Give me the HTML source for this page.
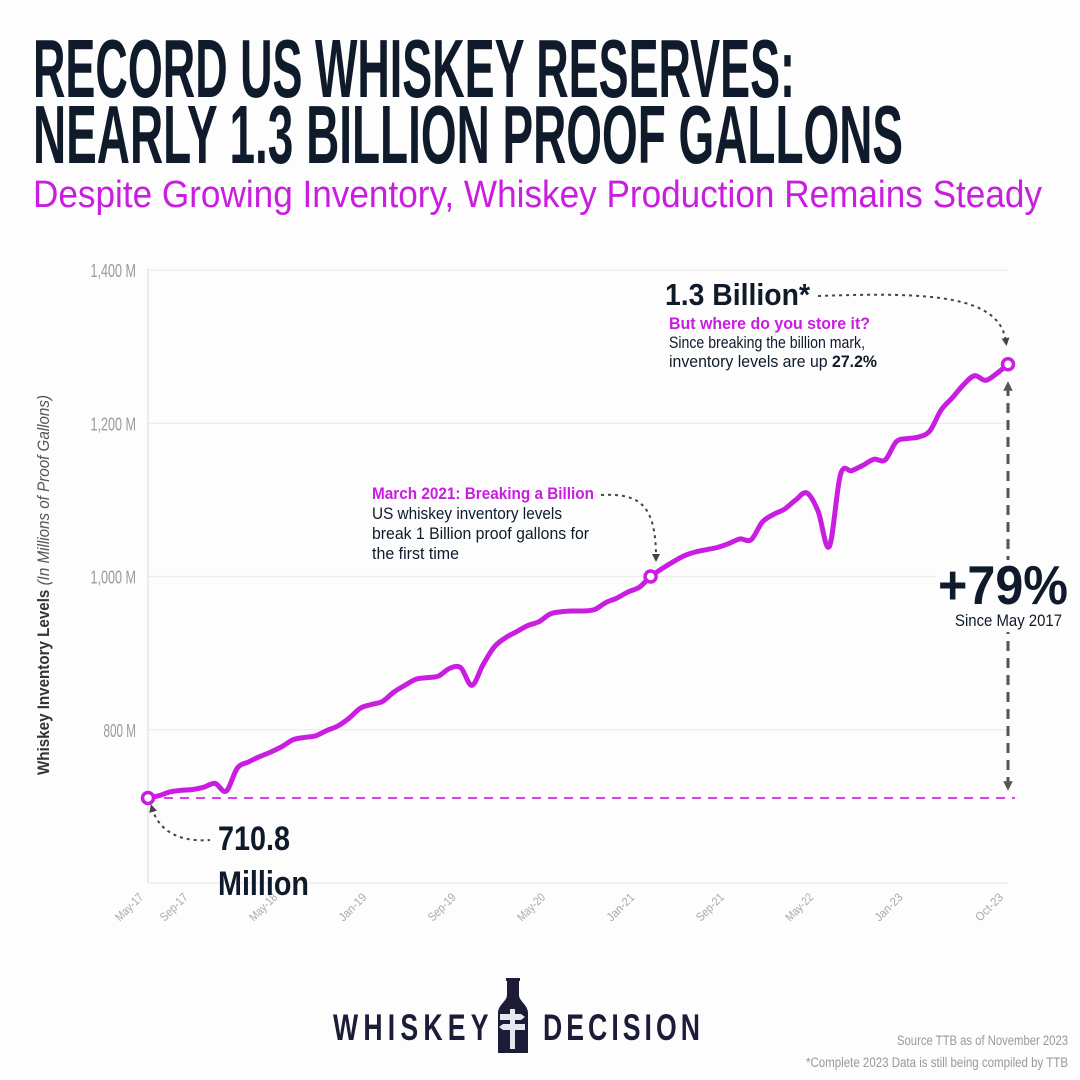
<!DOCTYPE html>
<html><head><meta charset="utf-8"><style>
html,body{margin:0;padding:0;background:#fdfdfd;}
svg{display:block;font-family:"Liberation Sans Narrow","Liberation Sans",sans-serif;}
</style></head><body>
<svg id="chart" width="1080" height="1080" viewBox="0 0 1080 1080">
<defs>
<marker id="ah" viewBox="0 0 10 10" refX="5" refY="5" markerWidth="4" markerHeight="4" orient="auto-start-reverse"><path d="M0,0 L10,5 L0,10 z" fill="#444"/></marker>
<marker id="ah2" viewBox="0 0 10 10" refX="5" refY="5" markerWidth="3.2" markerHeight="3.2" orient="auto-start-reverse"><path d="M0,0 L10,5 L0,10 z" fill="#555"/></marker>
</defs>
<rect width="1080" height="1080" fill="#fdfdfd"/>
<text x="33" y="97" font-size="83" font-weight="bold" fill="#0f1a2a" textLength="762" lengthAdjust="spacingAndGlyphs">RECORD US WHISKEY RESERVES:</text>
<text x="33" y="163" font-size="83" font-weight="bold" fill="#0f1a2a" textLength="870" lengthAdjust="spacingAndGlyphs">NEARLY 1.3 BILLION PROOF GALLONS</text>
<text x="33" y="207" font-size="38" fill="#c91de0" textLength="1009" lengthAdjust="spacingAndGlyphs">Despite Growing Inventory, Whiskey Production Remains Steady</text>

<g id="grid"></g>
<line x1="148" y1="268" x2="148" y2="883" stroke="#e6e6e6" stroke-width="1.5"/>
<g id="yticks"></g>
<g id="xticks"></g>
<text transform="translate(49,585) rotate(-90)" text-anchor="middle" font-size="17" fill="#333" textLength="380" lengthAdjust="spacingAndGlyphs"><tspan font-weight="bold">Whiskey Inventory Levels</tspan> <tspan font-style="italic" fill="#555">(In Millions of Proof Gallons)</tspan></text>

<line id="baseline" x1="148" x2="1015" stroke="#d000e8" stroke-width="1.5" stroke-dasharray="9 7"/>
<path id="series" fill="none" stroke="#c91de0" stroke-width="5" stroke-linejoin="round" stroke-linecap="round"/>
<g id="points"></g>

<path d="M152,808 C160,835 185,842 210,840" fill="none" stroke="#444" stroke-width="2" stroke-dasharray="3 4" marker-start="url(#ah)"/>
<text x="218" y="850" font-size="34" font-weight="bold" fill="#0f1a2a" textLength="72" lengthAdjust="spacingAndGlyphs">710.8</text>
<text x="218" y="895" font-size="34" font-weight="bold" fill="#0f1a2a" textLength="91" lengthAdjust="spacingAndGlyphs">Million</text>

<text x="665" y="305" font-size="31" font-weight="bold" fill="#0f1a2a" textLength="145" lengthAdjust="spacingAndGlyphs">1.3 Billion*</text>
<path d="M818,296 C930,292 1000,295 1006,342" fill="none" stroke="#444" stroke-width="2" stroke-dasharray="3 4" marker-end="url(#ah)"/>
<text x="669" y="329" font-size="16.5" font-weight="bold" fill="#c91de0" textLength="201" lengthAdjust="spacingAndGlyphs">But where do you store it?</text>
<text x="669" y="348" font-size="16.5" fill="#0f1a2a" textLength="196" lengthAdjust="spacingAndGlyphs">Since breaking the billion mark,</text>
<text x="669" y="367" font-size="16.5" fill="#0f1a2a" textLength="208" lengthAdjust="spacingAndGlyphs">inventory levels are up <tspan font-weight="bold">27.2%</tspan></text>

<text x="372" y="499" font-size="16.5" font-weight="bold" fill="#c91de0" textLength="222" lengthAdjust="spacingAndGlyphs">March 2021: Breaking a Billion</text>
<text x="372" y="519" font-size="16.5" fill="#0f1a2a" textLength="190" lengthAdjust="spacingAndGlyphs">US whiskey inventory levels</text>
<text x="372" y="539" font-size="16.5" fill="#0f1a2a" textLength="217" lengthAdjust="spacingAndGlyphs">break 1 Billion proof gallons for</text>
<text x="372" y="559" font-size="16.5" fill="#0f1a2a" textLength="87" lengthAdjust="spacingAndGlyphs">the first time</text>
<path d="M601,495 C640,493 656,505 656,558" fill="none" stroke="#444" stroke-width="2" stroke-dasharray="3 4" marker-end="url(#ah)"/>

<line x1="1008" y1="386" x2="1008" y2="786" stroke="#555" stroke-width="3" stroke-dasharray="10 7" marker-start="url(#ah2)" marker-end="url(#ah2)"/>
<rect x="935" y="560" width="140" height="72" fill="#fdfdfd"/>
<text x="938" y="604" font-size="55" font-weight="bold" fill="#0f1a2a" textLength="130" lengthAdjust="spacingAndGlyphs">+79%</text>
<text x="955" y="626" font-size="16.5" fill="#0f1a2a" textLength="107" lengthAdjust="spacingAndGlyphs">Since May 2017</text>

<text transform="translate(333,1040) scale(0.72,1)" x="0" y="0" font-size="37" font-weight="bold" fill="#1c1c38" textLength="216" lengthAdjust="spacing">WHISKEY</text>
<g>
<path d="M506,978 h14 v3 h-1 v14 c0,6 9,10 9,18 v40 h-30 v-40 c0,-8 9,-12 9,-18 v-14 h-1 z" fill="#1c1c38"/>
<rect x="510" y="1009" width="5" height="40" fill="#e6e6ee"/>
<path d="M500,1014 h21 l4,3 l-4,3 h-21 z M503,1024 h22 v6 h-22 l-4,-3 z" fill="#e6e6ee"/>
</g>
<text transform="translate(543,1040) scale(0.72,1)" x="0" y="0" font-size="37" font-weight="bold" fill="#1c1c38" textLength="218" lengthAdjust="spacing">DECISION</text>
<text x="1068" y="1045" text-anchor="end" font-size="13.5" fill="#999" textLength="171" lengthAdjust="spacingAndGlyphs">Source TTB as of November 2023</text>
<text x="1068" y="1067" text-anchor="end" font-size="13.5" fill="#999" textLength="262" lengthAdjust="spacingAndGlyphs">*Complete 2023 Data is still being compiled by TTB</text>
</svg>
<script>
const yTicks = [800, 1000, 1200, 1400];
const yTickLabels = ["800 M", "1,000 M", "1,200 M", "1,400 M"];
const xTickMonths = [0, 4, 12, 20, 28, 36, 44, 52, 60, 68, 77];
const xTickLabels = ["May-17","Sep-17","May-18","Jan-19","Sep-19","May-20","Jan-21","Sep-21","May-22","Jan-23","Oct-23"];
const values = [711,714,719,721,722,725,730,720,750,758,765,771,778,787,790,792,799,805,815,828,833,837,849,858,866,868,870,880,881,858,885,908,920,928,936,941,951,954,955,955,957,966,972,980,986,1000,1010,1019,1027,1032,1035,1038,1043,1049,1048,1071,1081,1088,1100,1109,1085,1039,1133,1138,1145,1153,1152,1176,1180,1182,1190,1217,1233,1250,1262,1256,1265,1277];
const highlightIdx = [0, 45, 77];

const NS = "http://www.w3.org/2000/svg";
const X0 = 148, X1 = 1008, YMIN = 600, YMAX = 1400, PY0 = 883, PY1 = 270;
const nMonths = 77;
const xs = m => X0 + (X1 - X0) * m / nMonths;
const ys = v => PY0 + (PY1 - PY0) * (v - YMIN) / (YMAX - YMIN);
function mk(tag, attrs, parent) { const e = document.createElementNS(NS, tag); for (const k in attrs) e.setAttribute(k, attrs[k]); parent.appendChild(e); return e; }

const grid = document.getElementById('grid');
[600].concat(yTicks).forEach(v => {
  const l = mk('line', {x1: X0, x2: X1, y1: ys(v), y2: ys(v), stroke: '#ececec', 'stroke-width': 1.2}, grid);
  
  
});
const yt = document.getElementById('yticks');
yTicks.forEach((v, i) => {
  const t = mk('text', {x: 136, y: ys(v) + 7, 'text-anchor': 'end', 'font-size': 18, fill: '#9a9a9a', textLength: yTickLabels[i].length * 6.5, lengthAdjust: 'spacingAndGlyphs'}, yt);
  t.textContent = yTickLabels[i];
  
  
});
const xt = document.getElementById('xticks');
xTickMonths.forEach((m, i) => {
  const x = xs(m) - 4, y = 898;
  const t = mk('text', {x: x, y: y, 'text-anchor': 'end', 'font-size': 12, fill: '#aaa', textLength: 34, lengthAdjust: 'spacingAndGlyphs', transform: `rotate(-45 ${x} ${y})`}, xt);
  t.textContent = xTickLabels[i];
  
  
});
const bl = document.getElementById('baseline');
bl.setAttribute('y1', ys(values[0])); bl.setAttribute('y2', ys(values[0]));

const P = values.map((v, i) => [xs(i), ys(v)]);
let d = `M${P[0][0]},${P[0][1]}`;
for (let i = 0; i < P.length - 1; i++) {
  const p0 = P[Math.max(0, i - 1)], p1 = P[i], p2 = P[i + 1], p3 = P[Math.min(P.length - 1, i + 2)];
  const c1 = [p1[0] + (p2[0] - p0[0]) / 6, p1[1] + (p2[1] - p0[1]) / 6];
  const c2 = [p2[0] - (p3[0] - p1[0]) / 6, p2[1] - (p3[1] - p1[1]) / 6];
  d += ` C${c1[0]},${c1[1]} ${c2[0]},${c2[1]} ${p2[0]},${p2[1]}`;
}
document.getElementById('series').setAttribute('d', d);
const pts = document.getElementById('points');
highlightIdx.forEach(i => {
  const c = mk('circle', {cx: xs(i), cy: ys(values[i]), r: 5.5, fill: '#fff', stroke: '#c91de0', 'stroke-width': 3.5}, pts);
  
  
});
</script>
</body></html>
